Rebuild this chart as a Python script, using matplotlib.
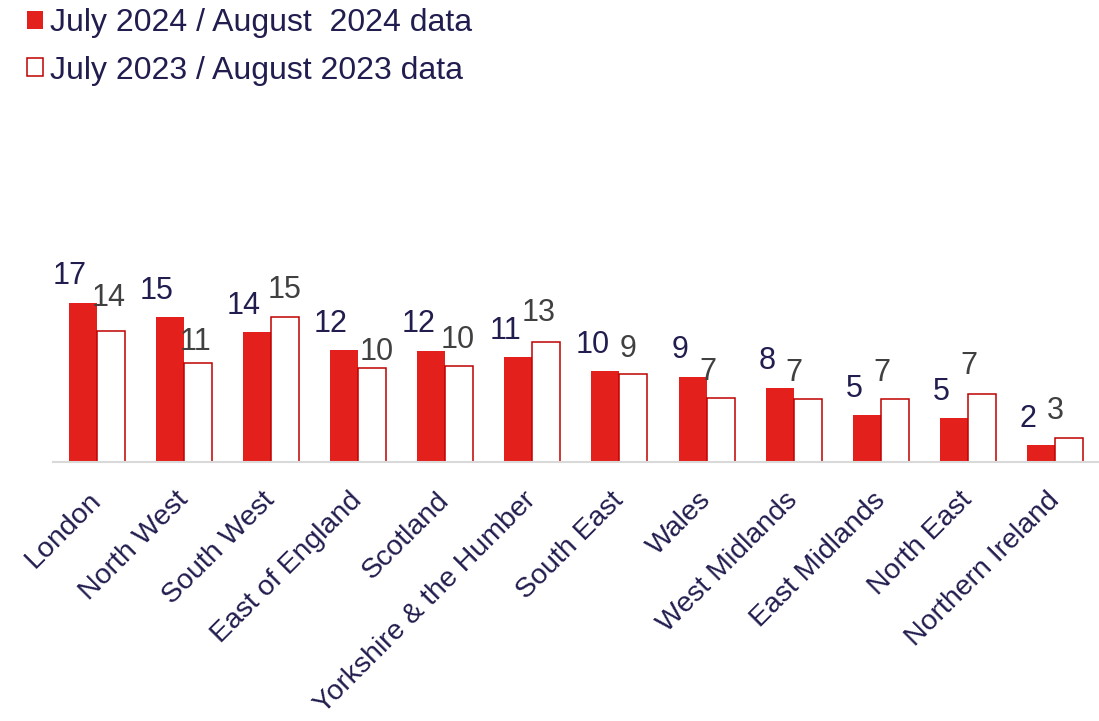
import matplotlib
matplotlib.use("Agg")
import matplotlib.pyplot as plt
from matplotlib.transforms import ScaledTranslation
import numpy as np

plt.rcParams['font.family'] = ['Liberation Sans', 'DejaVu Sans']

regions = ["London", "North West", "South West", "East of England", "Scotland",
           "Yorkshire & the Humber", "South East", "Wales", "West Midlands",
           "East Midlands", "North East", "Northern Ireland"]
values_2024 = [16.97, 15.45, 13.87, 11.95, 11.85, 11.2, 9.71, 9.1, 7.93, 4.98, 4.66, 1.81]
values_2023 = [13.98, 10.53, 15.44, 10.03, 10.25, 12.76, 9.36, 6.83, 6.76, 6.69, 7.29, 2.56]
labels_2024 = ["17", "15", "14", "12", "12", "11", "10", "9", "8", "5", "5", "2"]
labels_2023 = ["14", "11", "15", "10", "10", "13", "9", "7", "7", "7", "7", "3"]
legend_2024 = "July 2024 / August  2024 data"
legend_2023 = "July 2023 / August 2023 data"

# label placement (pixels): horizontal offset from bar centre, gap above bar top
dx_2024 = -13
gap_2024 = 18.5
dx_2023 = [-1.5, -2.5, 0, 5, -1.5, -7.5, -5, -13, -13.5, -12.5, -13.5, -13.3]
gap_2023 = [25, 13.4, 19, 7.7, 18.3, 21, 17.3, 17.7, 17.7, 18.3, 19.3, 18.7]

RED = '#E3201B'
EDGE = '#C00000'
NAVY = '#211D4E'
GREY = '#404040'

W, H, DPI = 1099, 721, 100
fig = plt.figure(figsize=(W / DPI, H / DPI), dpi=DPI)
px_per_unit = 9.37
ax_left, ax_right, ax_base, ax_top = 53, 1098.7, 462, 240
ax = fig.add_axes([ax_left / W, (H - ax_base) / H, (ax_right - ax_left) / W, (ax_base - ax_top) / H])

x = np.arange(len(regions))
bw = 0.321
b1 = ax.bar(x - bw / 2, values_2024, bw, color=RED, linewidth=0, label=legend_2024)
b2 = ax.bar(x + bw / 2, values_2023, bw, facecolor='white', edgecolor=EDGE, linewidth=1.1,
            label=legend_2023)

ax.set_xlim(-0.5, len(regions) - 0.5)
ax.set_ylim(0, (ax_base - ax_top) / px_per_unit)

pt = 72 / DPI
for i in range(len(regions)):
    ax.annotate(labels_2024[i], xy=(x[i] - bw / 2, values_2024[i]),
                xytext=(dx_2024 * pt, gap_2024 * pt), textcoords='offset points',
                ha='center', va='baseline', fontsize=22, color=NAVY)
    ax.annotate(labels_2023[i], xy=(x[i] + bw / 2, values_2023[i]),
                xytext=(dx_2023[i] * pt, gap_2023[i] * pt), textcoords='offset points',
                ha='center', va='baseline', fontsize=22, color=GREY)

for s in ['top', 'right', 'left']:
    ax.spines[s].set_visible(False)
ax.spines['bottom'].set_color('#D9D9D9')
ax.spines['bottom'].set_linewidth(1.5)
ax.set_yticks([])
ax.set_xticks(x)
ax.set_xticklabels(regions, rotation=45, ha='right', va='top', rotation_mode='anchor',
                   fontsize=20.5, color=NAVY)
ax.tick_params(axis='x', length=0, pad=25 * pt)
off = ScaledTranslation(-9 / DPI, 0, fig.dpi_scale_trans)
for lab in ax.get_xticklabels():
    lab.set_transform(lab.get_transform() + off)

fs_leg = 23
fs_px = fs_leg / pt
fig.legend(handles=[b1, b2], loc='upper left', bbox_to_anchor=(26.7 / W, 1 - 8 / H),
           frameon=False, fontsize=fs_leg, labelcolor=NAVY, borderpad=0, borderaxespad=0,
           handlelength=16 / fs_px, handleheight=16 / fs_px, handletextpad=7 / fs_px,
           labelspacing=0.55)

fig.savefig("out.png", dpi=DPI)
